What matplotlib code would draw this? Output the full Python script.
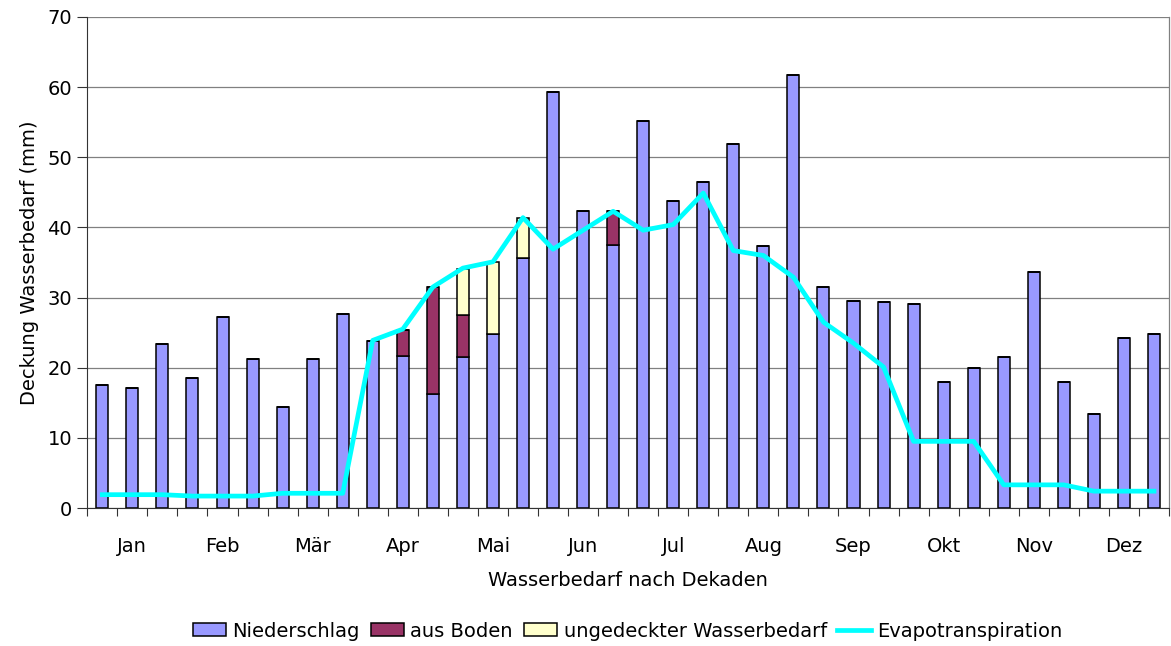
import numpy as np
import matplotlib
matplotlib.use("Agg")
import matplotlib.pyplot as plt

plt.rcParams['font.family'] = ['DejaVu Sans']

monate = ['Jan', 'Feb', 'Mär', 'Apr', 'Mai', 'Jun', 'Jul', 'Aug', 'Sep', 'Okt', 'Nov', 'Dez']

# Werte je Dekade (36 Dekaden)
niederschlag = [17.5, 17.1, 23.4, 18.6, 27.3, 21.2, 14.4, 21.2, 27.7,
                23.8, 21.6, 16.2, 21.5, 24.8, 35.7, 59.3, 42.4, 37.5,
                55.2, 43.7, 46.5, 51.9, 37.4, 61.7, 31.5, 29.5, 29.3,
                29.1, 18.0, 19.9, 21.5, 33.7, 17.9, 13.4, 24.3, 24.8]
aus_boden = [0, 0, 0, 0, 0, 0, 0, 0, 0,
             0, 3.8, 15.3, 6.0, 0, 0, 0, 0, 4.8,
             0, 0, 0, 0, 0, 0, 0, 0, 0,
             0, 0, 0, 0, 0, 0, 0, 0, 0]
ungedeckt = [0, 0, 0, 0, 0, 0, 0, 0, 0,
             0, 0, 0, 6.6, 10.2, 5.6, 0, 0, 0,
             0, 0, 0, 0, 0, 0, 0, 0, 0,
             0, 0, 0, 0, 0, 0, 0, 0, 0]
evapo = [1.9, 1.9, 1.9, 1.7, 1.7, 1.7, 2.1, 2.1, 2.1,
         23.9, 25.5, 31.5, 34.2, 35.1, 41.4, 36.9, 39.6, 42.3,
         39.6, 40.4, 44.9, 36.7, 36.0, 32.9, 26.5, 23.5, 20.1,
         9.5, 9.5, 9.5, 3.3, 3.3, 3.3, 2.4, 2.4, 2.4]

x = np.arange(len(niederschlag))
nied = np.array(niederschlag)
boden = np.array(aus_boden)
unged = np.array(ungedeckt)

fs = 14
fig = plt.figure(figsize=(11.71, 6.46), dpi=100)
ax = fig.add_axes([87.3 / 1171, 1 - 508 / 646, (1169 - 87.3) / 1171, (508 - 17) / 646])

b = 0.4
h1 = ax.bar(x, nied, b, color='#9999FF', edgecolor='black', linewidth=1.1, label='Niederschlag', zorder=2)
h2 = ax.bar(x, boden, b, bottom=nied, color='#993366', edgecolor='black', linewidth=1.1,
            label='aus Boden', zorder=2)
h3 = ax.bar(x, unged, b, bottom=nied + boden, color='#FFFFCC', edgecolor='black', linewidth=1.1,
            label='ungedeckter Wasserbedarf', zorder=2)
h4, = ax.plot(x, evapo, color='#00FFFF', linewidth=3.4, label='Evapotranspiration', zorder=3)

ax.set_xlim(-0.5, 35.5)
ax.set_ylim(0, 70)
ax.set_yticks(range(0, 71, 10))
ax.grid(axis='y', color='#808080', linewidth=0.9, zorder=0)

ax.set_xticks(np.arange(-0.5, 36, 1))
ax.set_xticklabels([])
ax.set_xticks(np.arange(1, 36, 3), minor=True)
ax.set_xticklabels(monate, minor=True)
ax.tick_params(axis='x', which='major', length=6, direction='out', color='#333333')
ax.tick_params(axis='x', which='minor', length=0, pad=21, labelsize=fs)
ax.tick_params(axis='y', length=7, direction='out', pad=4, labelsize=fs, color='#333333')

ax.spines['top'].set_visible(False)
ax.spines['right'].set_color('#808080')
ax.spines['right'].set_linewidth(0.9)
ax.spines['left'].set_color('#333333')
ax.spines['bottom'].set_color('#333333')

ax.set_xlabel('Wasserbedarf nach Dekaden', fontsize=fs, labelpad=11)
ax.set_ylabel('Deckung Wasserbedarf (mm)', fontsize=fs, labelpad=6)

fig.legend([h1, h2, h3, h4],
           ['Niederschlag', 'aus Boden', 'ungedeckter Wasserbedarf', 'Evapotranspiration'],
           loc='center', bbox_to_anchor=(0.536, 0.023), ncol=4, frameon=False, fontsize=fs,
           handlelength=1.7, handleheight=0.67, handletextpad=0.35, columnspacing=0.55,
           borderaxespad=0)

fig.savefig('out.png', dpi=100)
